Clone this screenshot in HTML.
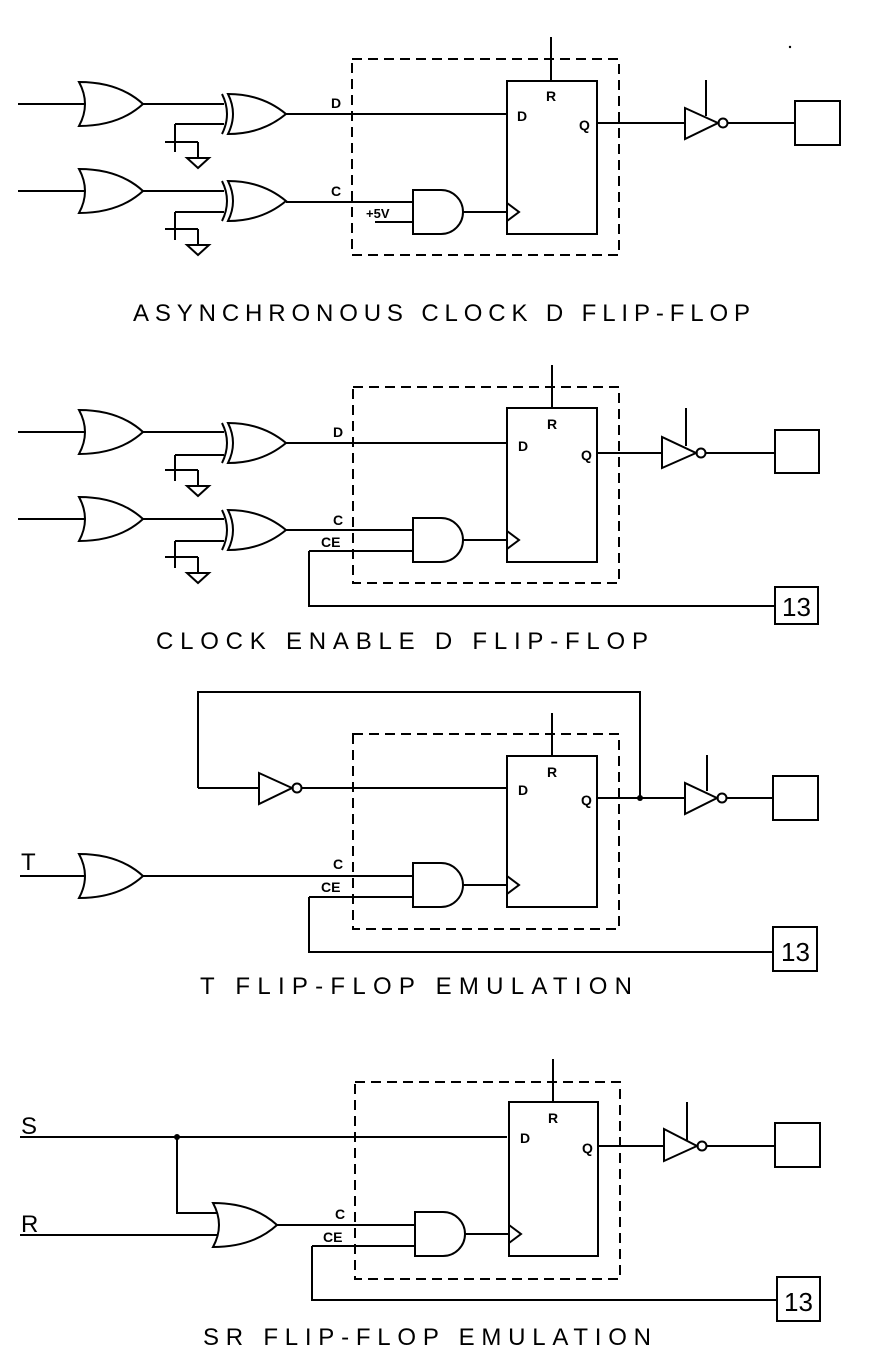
<!DOCTYPE html>
<html><head><meta charset="utf-8"><style>
html,body{margin:0;padding:0;background:#fff;}
svg{display:block;}
text{font-family:"Liberation Sans",sans-serif;fill:#000;}
.l{font-size:14px;font-weight:bold;}
.t{font-size:24px;}
.n{font-size:26px;}
</style></head><body>
<svg width="873" height="1372" viewBox="0 0 873 1372" xmlns="http://www.w3.org/2000/svg">
<defs>
<path id="or" d="M0,-22 Q40,-22 64,0 Q40,22 0,22 Q12,0 0,-22 Z"/>
<path id="xor" d="M4,-20 Q38,-20 62,0 Q38,20 4,20 Q14,0 4,-20 Z M-2,-20 Q8,0 -2,20"/>
<path id="and" d="M0,-22 H28 A22,22 0 0 1 28,22 H0 Z"/>
<path id="gnd" d="M-10,0 H23 M23,0 V16 M12,16 H34 L23,26 Z M0,-10 V10"/>
<path id="clk" d="M0,-9 L12,0 L0,9"/>
</defs>
<g fill="none" stroke="#000" stroke-width="2">
<!-- ===== Panel 1 ===== -->
<path d="M18,104 H84"/><use href="#or" x="79" y="104"/>
<path d="M18,191 H84"/><use href="#or" x="79" y="191"/>
<use href="#xor" x="224" y="114"/><use href="#xor" x="224" y="201"/>
<path d="M143,104 H224 M175,124 H224 M175,124 V152"/>
<use href="#gnd" x="175" y="142"/>
<path d="M143,191 H224 M175,212 H224 M175,212 V240"/>
<use href="#gnd" x="175" y="229"/>
<path d="M286,114 H507"/>
<path d="M286,202 H413 M375,222 H413"/>
<use href="#and" x="413" y="212"/>
<path d="M463,212 H507"/>
<rect x="352" y="59" width="267" height="196" stroke-dasharray="10,6"/>
<rect x="507" y="81" width="90" height="153"/>
<use href="#clk" x="507" y="212"/>
<path d="M551,37 V81"/>
<path d="M597,123 H685 M685,108 V139 L718,123 Z M706,80 V116"/>
<circle cx="723" cy="123" r="4.5"/>
<path d="M728,123 H795"/>
<rect x="795" y="101" width="45" height="44"/>
<!-- ===== Panel 2 ===== -->
<path d="M18,432 H84"/><use href="#or" x="79" y="432"/>
<path d="M18,519 H84"/><use href="#or" x="79" y="519"/>
<use href="#xor" x="224" y="443"/><use href="#xor" x="224" y="530"/>
<path d="M143,432 H224 M175,455 H224 M175,455 V481"/>
<use href="#gnd" x="175" y="470"/>
<path d="M143,519 H224 M175,541 H224 M175,541 V568"/>
<use href="#gnd" x="175" y="557"/>
<path d="M286,443 H507"/>
<path d="M286,530 H413 M309,551 H413 M309,551 V606 H775"/>
<use href="#and" x="413" y="540"/>
<path d="M463,540 H507"/>
<rect x="353" y="387" width="266" height="196" stroke-dasharray="10,6"/>
<rect x="507" y="408" width="90" height="154"/>
<use href="#clk" x="507" y="540"/>
<path d="M552,365 V408"/>
<path d="M597,453 H662 M662,437 V468 L696,453 Z M686,408 V446"/>
<circle cx="701" cy="453" r="4.5"/>
<path d="M706,453 H775"/>
<rect x="775" y="430" width="44" height="43"/>
<rect x="775" y="587" width="43" height="37"/>
<!-- ===== Panel 3 ===== -->
<path d="M198,788 V692 H640 V798"/>
<path d="M198,788 H259 M259,773 V804 L292,788 Z M302,788 H507"/>
<circle cx="297" cy="788" r="4.5"/>
<path d="M20,876 H84"/><use href="#or" x="79" y="876"/>
<path d="M143,876 H413 M309,897 H413 M309,897 V952 H773"/>
<use href="#and" x="413" y="885"/>
<path d="M463,885 H507"/>
<rect x="353" y="734" width="266" height="195" stroke-dasharray="10,6"/>
<rect x="507" y="756" width="90" height="151"/>
<use href="#clk" x="507" y="885"/>
<path d="M552,713 V756"/>
<path d="M597,798 H685 M685,783 V814 L717,798 Z M707,755 V791"/>
<circle cx="722" cy="798" r="4.5"/>
<path d="M727,798 H773"/>
<rect x="773" y="776" width="45" height="44"/>
<rect x="773" y="927" width="44" height="44"/>
<!-- ===== Panel 4 ===== -->
<path d="M20,1137 H507 M177,1137 V1213 H218"/>
<path d="M20,1235 H218"/>
<use href="#or" x="213" y="1225"/>
<path d="M277,1225 H415 M312,1246 H415 M312,1246 V1300 H777"/>
<use href="#and" x="415" y="1234"/>
<path d="M465,1234 H509"/>
<rect x="355" y="1082" width="265" height="197" stroke-dasharray="10,6"/>
<rect x="509" y="1102" width="89" height="154"/>
<use href="#clk" x="509" y="1234"/>
<path d="M553,1059 V1102"/>
<path d="M598,1146 H664 M664,1129 V1161 L697,1146 Z M687,1102 V1140"/>
<circle cx="702" cy="1146" r="4.5"/>
<path d="M707,1146 H775"/>
<rect x="775" y="1123" width="45" height="44"/>
<rect x="777" y="1277" width="43" height="44"/>
</g>
<circle cx="640" cy="798" r="3" fill="#000"/>
<circle cx="177" cy="1137" r="3" fill="#000"/>
<circle cx="790" cy="47" r="1.2" fill="#000"/>
<!-- labels -->
<text class="l" x="331" y="108">D</text>
<text class="l" x="331" y="196">C</text>
<text x="366" y="218" style="font-size:13px;font-weight:bold">+5V</text>
<text class="l" x="546" y="101">R</text><text class="l" x="517" y="121">D</text><text class="l" x="579" y="130">Q</text>
<text class="l" x="333" y="437">D</text>
<text class="l" x="333" y="525">C</text><text class="l" x="321" y="547">CE</text>
<text class="l" x="547" y="429">R</text><text class="l" x="518" y="451">D</text><text class="l" x="581" y="460">Q</text>
<text class="n" x="782" y="616">13</text>
<text class="l" x="547" y="777">R</text><text class="l" x="518" y="795">D</text><text class="l" x="581" y="805">Q</text>
<text class="l" x="333" y="869">C</text><text class="l" x="321" y="892">CE</text>
<text class="n" x="781" y="961">13</text>
<text x="21" y="870" style="font-size:24px">T</text>
<text x="21" y="1134" style="font-size:24px">S</text>
<text x="21" y="1232" style="font-size:24px">R</text>
<text class="l" x="548" y="1123">R</text><text class="l" x="520" y="1143">D</text><text class="l" x="582" y="1153">Q</text>
<text class="l" x="335" y="1219">C</text><text class="l" x="323" y="1242">CE</text>
<text class="n" x="784" y="1311">13</text>
<!-- titles -->
<text class="t" x="133" y="321" textLength="617" lengthAdjust="spacing">ASYNCHRONOUS CLOCK D FLIP-FLOP</text>
<text class="t" x="156" y="649" textLength="492" lengthAdjust="spacing">CLOCK ENABLE D FLIP-FLOP</text>
<text class="t" x="200" y="994" textLength="432" lengthAdjust="spacing">T FLIP-FLOP EMULATION</text>
<text class="t" x="203" y="1345" textLength="448" lengthAdjust="spacing">SR FLIP-FLOP EMULATION</text>
</svg>
</body></html>
